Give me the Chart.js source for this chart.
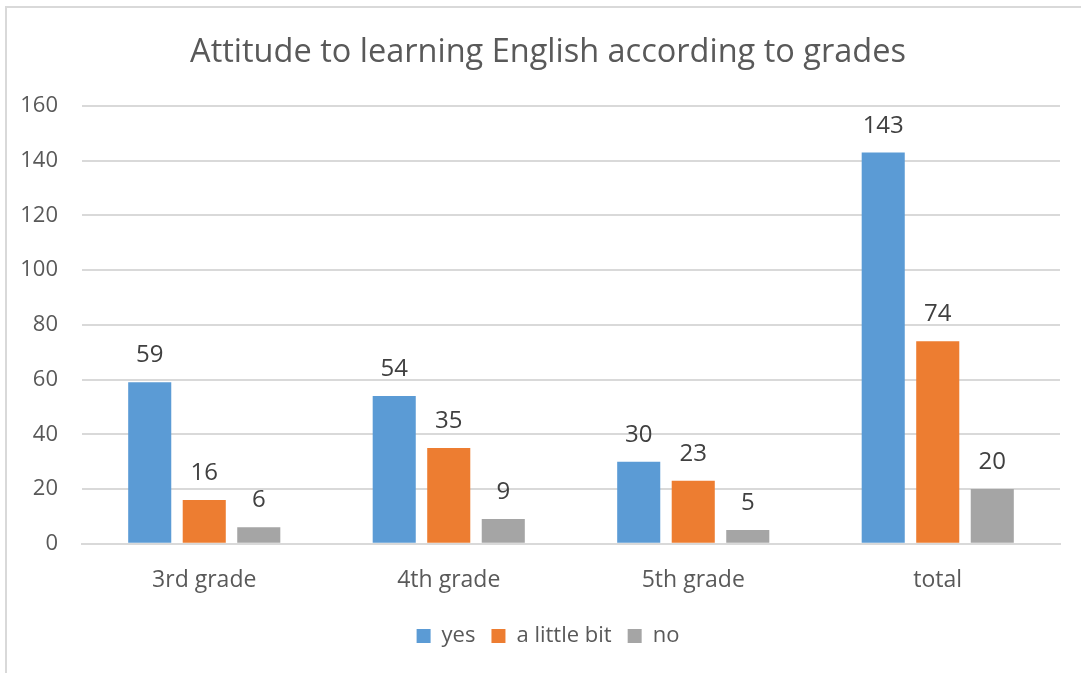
<!DOCTYPE html>
<html>
<head>
<meta charset="utf-8">
<script src="https://cdn.jsdelivr.net/npm/chart.js@4"></script>
<style>
    html, body { margin: 0; padding: 0; background: #fff; overflow: hidden; }
    #frame {
        position: absolute; left: 5px; top: 6px; width: 1100px; height: 700px;
        border-left: 2px solid #d9d9d9; border-top: 2px solid #d9d9d9;
    }
    #chart { position: absolute; left: 0; top: 0; }
</style>
</head>
<body>
<div id="frame"></div>
<canvas id="chart" width="1081" height="673"></canvas>
<script>
const categories = ['3rd grade', '4th grade', '5th grade', 'total'];
const yes = [59, 54, 30, 143];
const littleBit = [16, 35, 23, 74];
const no = [6, 9, 5, 20];

const FONT = '"Open Sans", sans-serif';
const TEXT = '#595959';

// value labels above each bar
const barLabels = {
    id: 'barLabels',
    afterDatasetsDraw(chart) {
        const ctx = chart.ctx;
        ctx.save();
        ctx.font = '24px ' + FONT;
        ctx.fillStyle = '#404040';
        ctx.textAlign = 'center';
        ctx.textBaseline = 'alphabetic';
        chart.data.datasets.forEach((ds, i) => {
            chart.getDatasetMeta(i).data.forEach((bar, j) => {
                ctx.fillText(String(ds.data[j]), bar.x, bar.y - 20);
            });
        });
        ctx.restore();
    }
};

new Chart(document.getElementById('chart'), {
    type: 'bar',
    data: {
        labels: categories,
        datasets: [
            { label: 'yes', data: yes, backgroundColor: '#5b9bd5' },
            { label: 'a little bit', data: littleBit, backgroundColor: '#ed7d31' },
            { label: 'no', data: no, backgroundColor: '#a5a5a5' },
        ]
    },
    options: {
        responsive: false,
        animation: false,
        categoryPercentage: 0.669,
        barPercentage: 0.79,
        layout: { padding: { left: 15, right: 0, top: 18, bottom: 16 } },
        plugins: {
            title: {
                display: true,
                text: 'Attitude to learning English according to grades',
                color: TEXT,
                font: { family: FONT, size: 32.5, weight: 'normal' },
                padding: { top: 15, bottom: 34 }
            },
            legend: {
                position: 'bottom',
                labels: {
                    color: TEXT,
                    font: { family: FONT, size: 22 },
                    boxWidth: 14,
                    boxHeight: 14,
                    padding: 16
                }
            },
            tooltip: { enabled: false }
        },
        scales: {
            x: {
                grid: { display: false },
                border: { color: '#d9d9d9', width: 2 },
                ticks: { color: TEXT, font: { family: FONT, size: 23, lineHeight: 1.1 }, padding: 16 }
            },
            y: {
                min: 0,
                max: 160,
                ticks: { stepSize: 20, color: TEXT, font: { family: FONT, size: 22 }, padding: 24 },
                grid: { color: '#d9d9d9', lineWidth: 2, drawTicks: false },
                border: { display: false },
                afterFit: (scale) => { scale.width = 67; }
            },
            // empty strip on the right so the gridlines stop short of the edge
            gap: {
                position: 'right',
                grid: { display: false },
                border: { display: false },
                ticks: { display: false },
                afterFit: (scale) => { scale.width = 21; }
            }
        }
    },
    plugins: [barLabels]
});
</script>
</body>
</html>
